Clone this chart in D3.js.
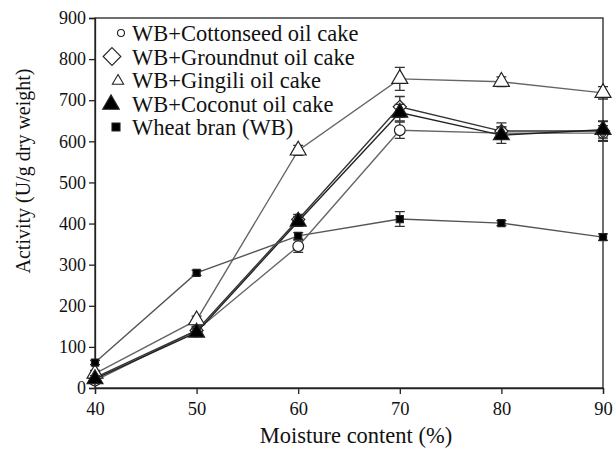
<!DOCTYPE html>
<html>
<head>
<meta charset="utf-8">
<script src="https://cdn.jsdelivr.net/npm/d3@7"></script>
<style>
  body { margin: 0; background: #fff; }
  svg text { font-family: "Liberation Serif", "DejaVu Serif", serif; fill: #111; }
</style>
</head>
<body>
<div id="chart"></div>
<script>
// moisture levels (%)
const moisture = [40, 50, 60, 70, 80, 90];

// activity values, U/g dry weight
const cottonseed = [18, 140, 345, 627, 620, 620];
const groundnut  = [25, 140, 410, 684, 625, 625];
const gingili    = [35, 165, 578, 752, 745, 718];
const coconut    = [22, 135, 405, 670, 615, 628];
const wheatBran  = [62, 280, 370, 411, 401, 367];

// error (±)
const cottonseedErr = [8, 10, 15, 20, 15, 18];
const groundnutErr  = [8, 10, 12, 25, 20, 25];
const gingiliErr    = [8, 10, 12, 28, 12, 15];
const coconutErr    = [8, 10, 12, 20, 20, 20];
const wheatBranErr  = [5, 6, 8, 18, 6, 8];

const seriesNames = ["WB+Cottonseed oil cake", "WB+Groundnut oil cake", "WB+Gingili oil cake", "WB+Coconut oil cake", "Wheat bran (WB)"];
const yTicks = [0, 100, 200, 300, 400, 500, 600, 700, 800, 900];

let width = 615;
let height = 454;
let margin = ({top: 18, right: 12, bottom: 66, left: 95});

const series = [
  {name: seriesNames[0], values: cottonseed, err: cottonseedErr, symbol: "circle", fill: "#fff", line: "#666"},
  {name: seriesNames[1], values: groundnut, err: groundnutErr, symbol: "diamond", fill: "#fff", line: "#333"},
  {name: seriesNames[2], values: gingili, err: gingiliErr, symbol: "triangle", fill: "#fff", line: "#666"},
  {name: seriesNames[3], values: coconut, err: coconutErr, symbol: "triangle", fill: "#000", line: "#222"},
  {name: seriesNames[4], values: wheatBran, err: wheatBranErr, symbol: "square", fill: "#000", line: "#555"}
];

const svg = d3.select("#chart").append("svg")
  .attr("width", width)
  .attr("height", height);

let x = d3.scaleLinear()
  .domain([40, 90])
  .range([margin.left, width - margin.right]);

let y = d3.scaleLinear()
  .domain([0, 900])
  .range([height - margin.bottom, margin.top]);

// frame
svg.append("rect")
  .attr("x", x(40)).attr("y", y(900))
  .attr("width", x(90) - x(40)).attr("height", y(0) - y(900))
  .attr("fill", "none").attr("stroke", "#222").attr("stroke-width", 1.3);

let xAxis = g => g
  .attr("transform", `translate(0,${y(0)})`)
  .call(d3.axisBottom(x).tickValues(moisture).tickSize(6).tickPadding(8))
  .call(g => g.select(".domain").attr("stroke", "#222").attr("stroke-width", 1.3))
  .call(g => g.selectAll(".tick line").attr("stroke", "#222").attr("stroke-width", 1.3))
  .call(g => g.selectAll("text").attr("font-size", 18.5));

let yAxis = g => g
  .attr("transform", `translate(${x(40)},0)`)
  .call(d3.axisLeft(y).tickValues(yTicks).tickSize(6).tickPadding(3))
  .call(g => g.select(".domain").attr("stroke", "#222").attr("stroke-width", 1.3))
  .call(g => g.selectAll(".tick line").attr("stroke", "#222").attr("stroke-width", 1.3))
  .call(g => g.selectAll("text").attr("font-size", 18));

svg.append("g").call(xAxis);
svg.append("g").call(yAxis);

svg.append("text")
  .attr("x", 356)
  .attr("y", 443)
  .attr("text-anchor", "middle")
  .attr("font-size", 22.5)
  .text("Moisture content (%)");

svg.append("text")
  .attr("transform", `translate(30,171) rotate(-90)`)
  .attr("text-anchor", "middle")
  .attr("font-size", 20)
  .text("Activity (U/g dry weight)");

const symbolPath = function(kind, size) {
  const map = {circle: d3.symbolCircle, diamond: d3.symbolDiamond2, triangle: d3.symbolTriangle, square: d3.symbolSquare};
  return d3.symbol().type(map[kind]).size(size)();
};
const markerSize = {circle: 90, diamond: 110, triangle: 110, square: 50};

const line = d3.line()
  .x((d, i) => x(moisture[i]))
  .y(d => y(d));

const g = svg.append("g")
  .selectAll("g")
  .data(series)
  .enter().append("g");

g.append("path")
  .attr("fill", "none")
  .attr("stroke", d => d.line)
  .attr("stroke-width", 1.4)
  .attr("d", d => line(d.values));

// error bars
g.each(function(s) {
  const eg = d3.select(this).append("g").attr("stroke", "#333").attr("stroke-width", 1.3);
  s.values.forEach((v, i) => {
    const cx = x(moisture[i]);
    const lo = y(v - s.err[i]), hi = y(v + s.err[i]);
    eg.append("path").attr("d", `M${cx},${lo}V${hi}M${cx - 5},${lo}H${cx + 5}M${cx - 5},${hi}H${cx + 5}`);
  });
});

g.selectAll(".marker")
  .data(s => s.values.map((v, i) => ({v: v, i: i, s: s})))
  .enter().append("path")
  .attr("class", "marker")
  .attr("transform", d => `translate(${x(moisture[d.i])},${y(d.v)})`)
  .attr("d", d => symbolPath(d.s.symbol, markerSize[d.s.symbol]))
  .attr("fill", d => d.s.fill)
  .attr("stroke", "#222")
  .attr("stroke-width", 1.2);

// legend
const legendSym = [
  {kind: "circle", size: 38, fill: "#fff", dx: 121, dy: -8},
  {kind: "diamond", size: 200, fill: "#fff", dx: 112, dy: -8},
  {kind: "triangle", size: 55, fill: "#fff", dx: 118, dy: -7},
  {kind: "triangle", size: 120, fill: "#000", dx: 111, dy: -7},
  {kind: "square", size: 64, fill: "#000", dx: 116, dy: -8}
];

const legend = svg.append("g")
  .selectAll("g")
  .data(seriesNames)
  .enter().append("g")
  .attr("transform", (d, i) => `translate(0,${41 + i * 23.5})`);

legend.append("path")
  .attr("transform", (d, i) => `translate(${legendSym[i].dx},${legendSym[i].dy})`)
  .attr("d", (d, i) => symbolPath(legendSym[i].kind, legendSym[i].size))
  .attr("fill", (d, i) => legendSym[i].fill)
  .attr("stroke", "#222")
  .attr("stroke-width", 1.1);

legend.append("text")
  .attr("x", 132)
  .attr("y", 0)
  .attr("font-size", 22.5)
  .text(d => d);
</script>
</body>
</html>
